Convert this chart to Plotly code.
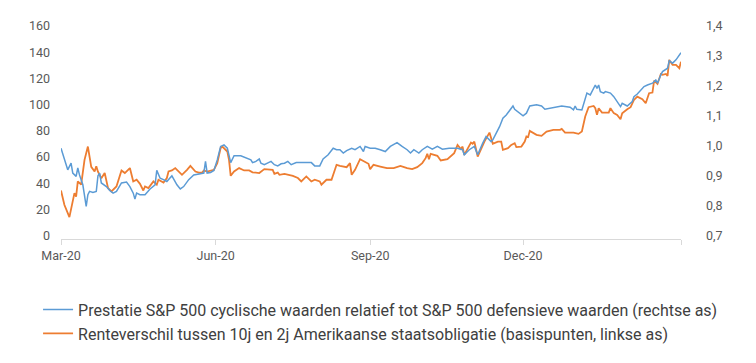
import pandas as pd
import plotly.graph_objects as go

START = pd.Timestamp("2020-03-01")

# Blue series: S&P 500 cyclicals vs defensives (right axis)
blue_days = [0, 2, 4, 6, 7, 9, 10, 11, 13, 15, 16, 17, 19, 21, 22, 23, 24, 27, 29, 31,
             33, 36, 39, 41, 43, 44, 45, 47, 50, 53, 56, 57, 59, 61, 63, 66, 69, 71, 73, 76,
             79, 83, 85, 86, 87, 89, 91, 93, 95, 97, 99, 101, 103, 107, 110, 111, 113, 114, 116, 118,
             119, 121, 123, 125, 127, 129, 131, 133, 135, 137, 140, 144, 147, 149, 151, 154, 156, 159, 162, 164,
             166, 168, 170, 173, 175, 178, 180, 181, 184, 187, 190, 193, 196, 200, 203, 206, 208, 210, 213, 215,
             218, 221, 224, 227, 231, 236, 239, 240, 243, 246, 248, 250, 251, 253, 256, 257, 259, 261, 263, 265,
             267, 269, 270, 273, 275, 277, 279, 283, 286, 288, 291, 295, 298, 303, 305, 306, 307, 310, 312, 313,
             315, 316, 318, 319, 320, 321, 323, 324, 327, 329, 331, 333, 334, 337, 340, 341, 343, 345, 347, 349,
             351, 352, 354, 355, 357, 358, 361, 362, 364, 366, 369]
blue_vals = [0.992, 0.953, 0.920, 0.942, 0.909, 0.898, 0.926, 0.903, 0.870, 0.798, 0.837, 0.848, 0.844, 0.848, 0.900, 0.909, 0.876, 0.864, 0.851, 0.842,
             0.848, 0.876, 0.879, 0.864, 0.842, 0.822, 0.842, 0.837, 0.837, 0.856, 0.870, 0.918, 0.892, 0.887, 0.881, 0.900, 0.870, 0.856, 0.864, 0.887,
             0.903, 0.907, 0.909, 0.948, 0.909, 0.911, 0.918, 0.953, 0.998, 1.003, 0.992, 0.944, 0.967, 0.967, 0.959, 0.956, 0.953, 0.944, 0.948, 0.956,
             0.942, 0.937, 0.942, 0.948, 0.937, 0.933, 0.940, 0.942, 0.948, 0.937, 0.944, 0.944, 0.942, 0.944, 0.933, 0.933, 0.956, 0.970, 0.992, 0.987,
             0.987, 0.976, 0.984, 0.992, 0.987, 0.998, 0.981, 0.998, 0.992, 0.992, 0.987, 0.981, 0.998, 1.011, 0.998, 0.987, 0.976, 0.987, 0.976, 0.987,
             0.998, 0.989, 0.998, 0.989, 0.992, 0.992, 0.987, 0.970, 0.987, 0.998, 0.970, 0.998, 1.009, 1.031, 1.014, 1.020, 1.042, 1.064, 1.092, 1.103,
             1.118, 1.133, 1.122, 1.109, 1.100, 1.109, 1.133, 1.137, 1.133, 1.122, 1.126, 1.129, 1.133, 1.129, 1.120, 1.133, 1.122, 1.120, 1.164, 1.176,
             1.170, 1.181, 1.203, 1.192, 1.203, 1.181, 1.176, 1.181, 1.176, 1.164, 1.148, 1.131, 1.142, 1.133, 1.148, 1.164, 1.173, 1.187, 1.198, 1.203,
             1.207, 1.209, 1.220, 1.209, 1.237, 1.248, 1.259, 1.284, 1.276, 1.287, 1.311]

# Orange series: 10y-2y US Treasury spread (basis points, left axis)
orange_days = [0, 2, 5, 8, 9, 10, 12, 14, 16, 18, 20, 21, 22, 24, 26, 28, 30, 33, 36, 38,
               41, 43, 45, 47, 49, 50, 52, 55, 57, 58, 61, 63, 64, 66, 68, 70, 72, 75, 77, 80,
               82, 84, 85, 87, 91, 93, 95, 96, 99, 100, 101, 103, 106, 109, 112, 114, 118, 121, 126, 127,
               129, 130, 133, 138, 141, 143, 146, 149, 151, 154, 155, 158, 161, 164, 166, 170, 172, 173, 175, 178,
               181, 183, 184, 186, 190, 194, 198, 202, 206, 209, 212, 215, 217, 218, 219, 220, 224, 226, 230, 234,
               236, 238, 239, 240, 244, 245, 246, 248, 252, 255, 257, 260, 262, 263, 266, 268, 270, 271, 274, 276,
               277, 278, 279, 281, 283, 286, 289, 293, 297, 298, 300, 305, 308, 310, 312, 314, 317, 318, 319, 320,
               322, 326, 327, 329, 331, 333, 334, 337, 339, 341, 343, 346, 348, 350, 352, 353, 355, 357, 358, 360,
               361, 362, 364, 366, 368, 369]
orange_vals = [34.5, 23.6, 14.2, 32.5, 29.9, 41.4, 38.9, 57.9, 68.0, 52.6, 49.0, 53.0, 48.8, 43.8, 47.8, 36.3, 33.8, 37.6, 49.8, 47.8,
               51.6, 41.4, 42.7, 39.6, 34.5, 37.6, 36.3, 41.4, 38.9, 42.7, 40.6, 44.0, 49.0, 49.8, 51.6, 49.0, 46.5, 50.3, 53.3, 49.0,
               48.2, 48.2, 49.8, 49.0, 50.3, 55.4, 66.8, 68.0, 64.2, 57.9, 45.7, 49.0, 51.6, 49.8, 49.8, 48.4, 47.8, 50.8, 50.3, 47.2,
               48.2, 46.5, 47.2, 45.7, 44.0, 41.4, 45.2, 41.4, 42.7, 41.4, 38.9, 42.7, 42.7, 54.1, 53.3, 52.3, 55.4, 46.5, 50.3, 58.4,
               56.6, 54.9, 50.8, 54.1, 52.8, 51.6, 51.6, 53.3, 51.6, 50.8, 52.3, 55.4, 59.2, 62.5, 58.4, 62.5, 61.0, 57.4, 58.4, 63.0,
               69.3, 66.1, 68.0, 61.7, 71.1, 70.1, 71.8, 60.4, 71.8, 78.7, 70.1, 71.8, 71.8, 65.5, 66.8, 69.3, 70.6, 67.6, 68.0, 71.8,
               75.7, 75.2, 80.0, 78.2, 77.0, 76.2, 79.5, 80.8, 80.8, 81.5, 78.7, 78.7, 77.7, 79.5, 90.9, 98.1, 99.0, 97.3, 92.2, 97.3,
               93.9, 93.9, 97.3, 93.5, 92.2, 88.9, 93.5, 96.5, 98.1, 103.6, 106.1, 104.2, 101.1, 108.7, 109.2, 118.3, 115.8, 123.4, 122.7, 123.4,
               121.9, 134.1, 130.3, 130.3, 127.8, 132.8]

left_ticks = [0, 20, 40, 60, 80, 100, 120, 140, 160]
right_ticks = [0.7, 0.8, 0.9, 1.0, 1.1, 1.2, 1.3, 1.4]
right_labels = ["0,7", "0,8", "0,9", "1,0", "1,1", "1,2", "1,3", "1,4"]
x_tick_dates = ["2020-03-01", "2020-06-01", "2020-09-01", "2020-12-01", "2021-03-05"]
x_tick_labels = ["Mar-20", "Jun-20", "Sep-20", "Dec-20", ""]

blue_name = "Prestatie S&P 500 cyclische waarden relatief tot S&P 500 defensieve waarden (rechtse as)"
orange_name = "Renteverschil tussen 10j en 2j Amerikaanse staatsobligatie (basispunten, linkse as)"

blue_x = [START + pd.Timedelta(days=d) for d in blue_days]
orange_x = [START + pd.Timedelta(days=d) for d in orange_days]

fig = go.Figure()
fig.add_trace(go.Scatter(x=blue_x, y=blue_vals, name=blue_name, mode="lines",
                         line=dict(color="#5B9BD5", width=1.5), yaxis="y2"))
fig.add_trace(go.Scatter(x=orange_x, y=orange_vals, name=orange_name, mode="lines",
                         line=dict(color="#ED7D31", width=1.8), yaxis="y"))

tick_font = dict(family="Roboto, Arial, sans-serif", size=12.5, color="#595959")

fig.update_layout(
    width=756, height=363,
    margin=dict(l=61, r=75, t=26, b=124),
    paper_bgcolor="white", plot_bgcolor="white",
    font=dict(family="Roboto, Arial, sans-serif", color="#404040"),
    xaxis=dict(type="date", range=["2020-03-01", "2021-03-05"],
               tickvals=x_tick_dates, ticktext=x_tick_labels,
               showgrid=False, showline=True, linecolor="#D9D9D9", linewidth=1,
               ticks="outside", ticklen=5, tickcolor="#D9D9D9",
               tickfont=tick_font, zeroline=False),
    yaxis=dict(range=[-2.5, 160], tickvals=left_ticks, showgrid=False, zeroline=False,
               tickfont=tick_font, ticks="", showline=False, ticklabelstandoff=10),
    yaxis2=dict(range=[0.689, 1.4], tickvals=right_ticks, ticktext=right_labels,
                overlaying="y", side="right", showgrid=False, zeroline=False,
                tickfont=tick_font, ticks="", showline=False, ticklabelstandoff=24),
    legend=dict(orientation="v", x=-0.037, xanchor="left",
                y=-0.252, yanchor="top",
                font=dict(family="Roboto, Arial, sans-serif", size=16, color="#404040"),
                tracegroupgap=0, bgcolor="rgba(0,0,0,0)"),
    showlegend=True,
)

fig.write_html("out.html",
               config={"displayModeBar": False},
               post_script="document.body.style.margin='0px';document.body.style.overflow='hidden';")
